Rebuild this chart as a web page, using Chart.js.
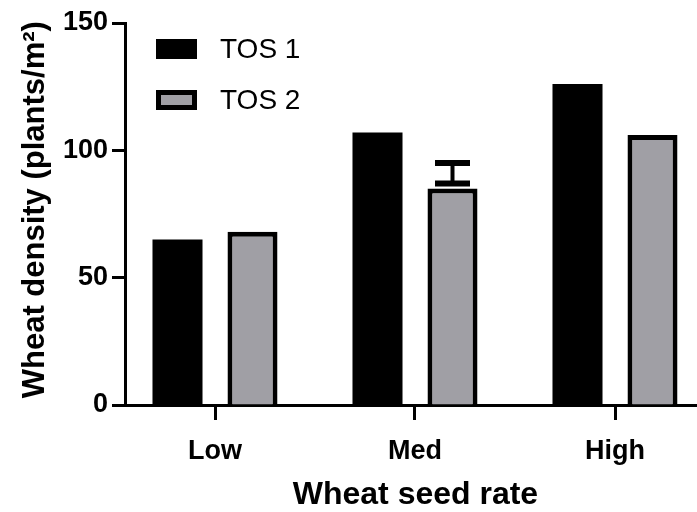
<!DOCTYPE html>
<html>
<head>
<meta charset="utf-8">
<script src="https://cdn.jsdelivr.net/npm/chart.js@4/dist/chart.umd.min.js"></script>
<style>
  html, body { margin: 0; padding: 0; background: #ffffff; }
  #wrap { width: 697px; height: 512px; }
</style>
</head>
<body>
<div id="wrap"><canvas id="c" width="697" height="512"></canvas></div>
<script>
const categories = ['Low', 'Med', 'High'];
const seriesLabels = ['TOS 1', 'TOS 2'];
const tos1 = [65, 107, 126];
const tos2 = [68, 85, 106];
const tos2ErrLow = [null, 87, null];
const tos2ErrHigh = [null, 95, null];
const yTicks = [0, 50, 100, 150];

const FONT = '"Liberation Sans", Arial, Helvetica, sans-serif';
const GREY = '#a09fa5';

const errorBarPlugin = {
  id: 'errorBars',
  afterDatasetsDraw(chart) {
    const ctx = chart.ctx;
    const y = chart.scales.y;
    const meta = chart.getDatasetMeta(1);
    ctx.save();
    ctx.strokeStyle = '#000';
    tos2ErrLow.forEach((lo, i) => {
      const hi = tos2ErrHigh[i];
      if (lo == null || hi == null) return;
      const bar = meta.data[i];
      const x = bar.x;
      const yl = y.getPixelForValue(lo);
      const yh = y.getPixelForValue(hi);
      const half = 17.5;
      ctx.lineWidth = 4;
      ctx.beginPath();
      ctx.moveTo(x, yl); ctx.lineTo(x, yh);
      ctx.stroke();
      ctx.lineWidth = 6;
      ctx.beginPath();
      ctx.moveTo(x - half, yl); ctx.lineTo(x + half, yl);
      ctx.moveTo(x - half, yh); ctx.lineTo(x + half, yh);
      ctx.stroke();
    });
    ctx.restore();
  }
};

const legendPlugin = {
  id: 'innerLegend',
  afterDraw(chart) {
    const ctx = chart.ctx;
    ctx.save();
    chart.data.datasets.forEach((ds, i) => {
      const bx = 156, bw = 41, bh = 20;
      const cy = 49 + i * 51;
      const by = cy - bh / 2;
      ctx.fillStyle = '#000';
      ctx.fillRect(bx, by, bw, bh);
      if (ds.backgroundColor !== '#000000') {
        ctx.fillStyle = ds.backgroundColor;
        ctx.fillRect(bx + 5, by + 5, bw - 10, bh - 10);
      }
      ctx.fillStyle = '#000';
      ctx.font = '28px ' + FONT;
      ctx.textAlign = 'left';
      ctx.textBaseline = 'middle';
      ctx.fillText(ds.label, 220, cy + 1);
    });
    ctx.restore();
  }
};

new Chart(document.getElementById('c'), {
  type: 'bar',
  data: {
    datasets: [
      {
        label: seriesLabels[0],
        data: categories.map((c, i) => ({ x: i, y: tos1[i] })),
        backgroundColor: '#000000',
        borderColor: '#000000',
        borderWidth: 0
      },
      {
        label: seriesLabels[1],
        data: categories.map((c, i) => ({ x: i, y: tos2[i] })),
        backgroundColor: GREY,
        borderColor: '#000000',
        borderWidth: 5,
        borderSkipped: 'bottom'
      }
    ]
  },
  plugins: [errorBarPlugin, legendPlugin],
  options: {
    responsive: false,
    animation: false,
    layout: { padding: { top: 23, right: 0, left: 0, bottom: 0 } },
    categoryPercentage: 0.75,
    barPercentage: 0.667,
    plugins: {
      legend: { display: false },
      tooltip: { enabled: false }
    },
    scales: {
      x: {
        type: 'linear',
        min: -0.45,
        max: 2.41,
        offset: false,
        z: 1,
        afterFit(scale) { scale.height = 107; },
        afterBuildTicks(scale) { scale.ticks = categories.map((c, i) => ({ value: i })); },
        grid: { offset: false, drawOnChartArea: false, tickLength: 15, tickWidth: 3, tickColor: '#000' },
        border: { display: true, color: '#000', width: 3 },
        ticks: {
          color: '#000',
          padding: 15,
          font: { family: FONT, size: 27, weight: 'bold' },
          callback: (v) => categories[v]
        },
        title: {
          display: true,
          text: ' Wheat seed rate',
          color: '#000',
          font: { family: FONT, size: 32, weight: 'bold', lineHeight: 1 },
          padding: { top: 0, bottom: 1 }
        }
      },
      y: {
        min: 0,
        max: 150,
        z: 1,
        afterFit(scale) { scale.width = 125; },
        afterBuildTicks(scale) { scale.ticks = yTicks.map(v => ({ value: v })); },
        grid: { drawOnChartArea: false, tickLength: 13, tickWidth: 3, tickColor: '#000' },
        border: { display: true, color: '#000', width: 3 },
        ticks: {
          color: '#000',
          padding: 4,
          font: { family: FONT, size: 27, weight: 'bold' }
        },
        title: {
          display: true,
          text: ' Wheat density (plants/m²)',
          color: '#000',
          font: { family: FONT, size: 31, weight: 'bold', lineHeight: 1 },
          padding: { top: 20, bottom: 0 }
        }
      }
    }
  }
});
</script>
</body>
</html>
